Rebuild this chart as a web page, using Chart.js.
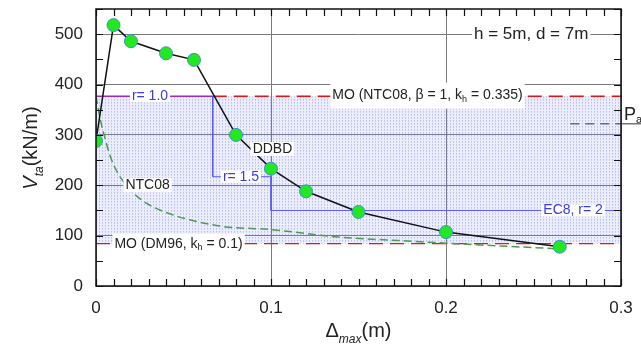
<!DOCTYPE html>
<html>
<head>
<meta charset="utf-8">
<script src="https://cdn.jsdelivr.net/npm/chart.js@4.4.0/dist/chart.umd.min.js"></script>
<style>
  html, body { margin: 0; padding: 0; background: #fff; }
</style>
</head>
<body>
<canvas id="chart" width="641" height="347"></canvas>
<script>
// DDBD curve (green points)
const ddbdDisp = [0, 0.01, 0.02, 0.04, 0.056, 0.08, 0.1, 0.12, 0.15, 0.2, 0.265];
const ddbdShear = [288, 518, 486, 462, 449, 300, 233, 188, 147, 107, 78];

// NTC08 curve (green dashed)
const ntcDisp = [0, 0.0025, 0.0054, 0.0082, 0.012, 0.0158, 0.0215, 0.029, 0.0386, 0.054, 0.073, 0.1, 0.136, 0.185, 0.2, 0.263];
const ntcShear = [377, 330, 290, 257, 227, 207, 184, 164, 148, 131, 118, 112, 98, 88, 85, 74];

// horizontal reference levels
const moNtc08 = 377;
const moDm96 = 84;
const paLevel = 322;

// r = 1.0 / 1.5 / EC8 r = 2 limits
const r1Disp = [0, 0.0667];
const rStepDisp = [0.0667, 0.0667, 0.1, 0.1, 0.3];
const rStepShear = [377, 217, 217, 150, 150];

const xTicks = [0, 0.1, 0.2, 0.3];
const yTicks = [0, 100, 200, 300, 400, 500];
const xMinorStep = 0.01;
const yMinorStep = 50;

const FONT = "'Liberation Sans', Arial, sans-serif";

const pts = (xs, ys) => xs.map((x, i) => ({ x: x, y: ys[i] }));
const flat = (xs, v) => xs.map(x => ({ x: x, y: v }));

// text annotations, anchored in data units
const notes = [
  { x: 0.216, y: 500, parts: [{ t: "h = 5m, d = 7m" }], size: 17, color: "#222", padY: 10 },
  { x: 0.135, y: 378, parts: [{ t: "MO (NTC08, β = 1, k" }, { t: "h", sub: true }, { t: " = 0.335)" }], size: 14, color: "#222", padY: 13 },
  { x: 0.0205, y: 377, parts: [{ t: "r= 1.0" }], size: 14, color: "#3a3ae8", padY: 6 },
  { x: 0.0895, y: 272, parts: [{ t: "DDBD" }], size: 14, color: "#222", padY: 7 },
  { x: 0.0725, y: 217, parts: [{ t: "r= 1.5" }], size: 14, color: "#3a3ae8", padY: 6 },
  { x: 0.0168, y: 200, parts: [{ t: "NTC08" }], size: 14, color: "#222", padY: 7 },
  { x: 0.2556, y: 150, parts: [{ t: "EC8, r= 2" }], size: 14, color: "#3a3ae8", padY: 6 },
  { x: 0.0105, y: 84, parts: [{ t: "MO (DM96, k" }, { t: "h", sub: true }, { t: " = 0.1)" }], size: 14, color: "#222", padY: 10 }
];

function drawParts(ctx, parts, x, y, size, color) {
  let cx = x;
  parts.forEach(p => {
    const s = p.sub ? Math.round(size * 0.62) : size;
    ctx.font = (p.italic ? "italic " : "") + s + "px " + FONT;
    ctx.fillStyle = color;
    ctx.fillText(p.t, cx, p.sub ? y + size * 0.28 : y);
    cx += ctx.measureText(p.t).width;
  });
  return cx - x;
}

function partsWidth(ctx, parts, size) {
  let w = 0;
  parts.forEach(p => {
    const s = p.sub ? Math.round(size * 0.62) : size;
    ctx.font = (p.italic ? "italic " : "") + s + "px " + FONT;
    w += ctx.measureText(p.t).width;
  });
  return w;
}

// dotted light-blue shading like the original
function makeShade() {
  const c = document.createElement("canvas");
  c.width = 3; c.height = 3;
  const g = c.getContext("2d");
  g.fillStyle = "rgba(120,130,240,0.14)";
  g.fillRect(0, 0, 3, 3);
  g.fillStyle = "rgba(100,110,235,0.38)";
  g.fillRect(0, 0, 1, 1);
  g.fillStyle = "rgba(100,110,235,0.22)";
  g.fillRect(0, 1, 1, 1);
  return g.createPattern(c, "repeat");
}

const decor = {
  id: "decor",
  afterDatasetsDraw(chart) {
    const ctx = chart.ctx;
    const xs = chart.scales.x, ys = chart.scales.y;
    ctx.save();
    ctx.textBaseline = "middle";
    notes.forEach(n => {
      const px = xs.getPixelForValue(n.x);
      const py = ys.getPixelForValue(n.y);
      const w = partsWidth(ctx, n.parts, n.size);
      ctx.fillStyle = "#fff";
      ctx.fillRect(px - 2, py - n.padY, w + 4, n.padY * 2);
      drawParts(ctx, n.parts, px, py, n.size, n.color);
    });
    ctx.restore();
  },
  afterDraw(chart) {
    const ctx = chart.ctx;
    const a = chart.chartArea;
    const xs = chart.scales.x, ys = chart.scales.y;
    ctx.save();
    // inward ticks on all four sides
    ctx.strokeStyle = "#111";
    ctx.lineWidth = 1.2;
    ctx.beginPath();
    for (let v = 0; v <= xs.max + 1e-9; v += xMinorStep) {
      const px = Math.round(xs.getPixelForValue(v)) + 0.5;
      ctx.moveTo(px, a.bottom); ctx.lineTo(px, a.bottom - 7);
      ctx.moveTo(px, a.top); ctx.lineTo(px, a.top + 7);
    }
    for (let v = 0; v <= ys.max + 1e-9; v += yMinorStep) {
      const py = Math.round(ys.getPixelForValue(v)) + 0.5;
      ctx.moveTo(a.left, py); ctx.lineTo(a.left + 7, py);
      ctx.moveTo(a.right, py); ctx.lineTo(a.right - 7, py);
    }
    ctx.stroke();
    // frame
    ctx.lineWidth = 1.5;
    ctx.strokeRect(a.left, a.top, a.right - a.left, a.bottom - a.top);

    // P_as marker outside the frame
    const py = ys.getPixelForValue(paLevel);
    ctx.lineWidth = 1;
    ctx.strokeStyle = "#333";
    ctx.beginPath();
    ctx.moveTo(a.right, py); ctx.lineTo(chart.width, py);
    ctx.stroke();
    ctx.textBaseline = "middle";
    drawParts(ctx, [{ t: "P" }, { t: "as", sub: true }], a.right + 3, ys.getPixelForValue(340), 18, "#222");

    // axis titles
    ctx.textBaseline = "alphabetic";
    const xt = [{ t: "Δ" }, { t: "max", sub: true, italic: true }, { t: "(m)" }];
    const xw = partsWidth(ctx, xt, 20);
    drawParts(ctx, xt, (a.left + a.right) / 2 - xw / 2, 337, 20, "#222");

    const yt = [{ t: "V", italic: true }, { t: "ta", sub: true, italic: true }, { t: "(kN/m)" }];
    const yw = partsWidth(ctx, yt, 20);
    ctx.translate(37, 148);
    ctx.rotate(-Math.PI / 2);
    drawParts(ctx, yt, -yw / 2, 0, 20, "#222");
    ctx.restore();
  }
};

new Chart(document.getElementById("chart"), {
  type: "scatter",
  data: {
    datasets: [
      {
        label: "DDBD",
        data: pts(ddbdDisp, ddbdShear),
        showLine: true,
        borderColor: "#111",
        borderWidth: 1.5,
        pointRadius: 6.5,
        pointBackgroundColor: "#22e822",
        pointBorderColor: "#3f8fd8",
        pointBorderWidth: 1,
        order: 0
      },
      {
        label: "NTC08",
        data: pts(ntcDisp, ntcShear),
        showLine: true,
        borderColor: "#4f9a4f",
        borderWidth: 1.5,
        borderDash: [8, 4],
        pointRadius: 0,
        cubicInterpolationMode: "monotone",
        order: 1
      },
      {
        label: "r steps",
        data: pts(rStepDisp, rStepShear),
        showLine: true,
        borderColor: "#5a5aff",
        borderWidth: 1,
        pointRadius: 0,
        order: 2
      },
      {
        label: "r = 1.0",
        data: flat(r1Disp, moNtc08),
        showLine: true,
        borderColor: "#9a2bc8",
        borderWidth: 1.5,
        pointRadius: 0,
        order: 3
      },
      {
        label: "MO NTC08",
        data: flat([r1Disp[1], 0.3], moNtc08),
        showLine: true,
        borderColor: "#e01515",
        borderWidth: 1.5,
        borderDash: [14, 7],
        pointRadius: 0,
        order: 4
      },
      {
        label: "MO DM96",
        data: flat([0, 0.3], moDm96),
        showLine: true,
        borderColor: "#e01515",
        borderWidth: 1.2,
        borderDash: [14, 7],
        pointRadius: 0,
        order: 5
      },
      {
        label: "Pa",
        data: flat([0.271, 0.3], paLevel),
        showLine: true,
        borderColor: "#333",
        borderWidth: 1,
        borderDash: [9, 6],
        pointRadius: 0,
        order: 6
      },
      {
        label: "range",
        data: flat([0, 0.3], moNtc08),
        showLine: true,
        borderWidth: 0,
        borderColor: "rgba(0,0,0,0)",
        backgroundColor: makeShade(),
        fill: { value: moDm96 },
        pointRadius: 0,
        order: 7
      }
    ]
  },
  options: {
    responsive: false,
    devicePixelRatio: 1,
    animation: false,
    layout: { padding: { left: 0, right: 20, top: 9, bottom: 0 } },
    plugins: { legend: { display: false }, tooltip: { enabled: false } },
    scales: {
      x: {
        type: "linear",
        min: 0,
        max: 0.3,
        afterBuildTicks: s => { s.ticks = xTicks.map(v => ({ value: v })); },
        afterFit: s => { s.height = 61; s.paddingLeft = 0; s.paddingRight = 0; },
        border: { display: false },
        grid: { color: "#7a7a7a", lineWidth: 1, drawTicks: false },
        ticks: {
          padding: 12,
          color: "#222",
          font: { family: FONT, size: 17 },
          callback: v => String(v)
        }
      },
      y: {
        min: 0,
        max: 550,
        afterBuildTicks: s => { s.ticks = yTicks.map(v => ({ value: v })); },
        afterFit: s => { s.width = 96; s.paddingTop = 0; s.paddingBottom = 0; },
        border: { display: false },
        grid: { color: "#7a7a7a", lineWidth: 1, drawTicks: false },
        ticks: {
          padding: 13,
          color: "#222",
          font: { family: FONT, size: 17 }
        }
      }
    }
  },
  plugins: [decor]
});
</script>
</body>
</html>
